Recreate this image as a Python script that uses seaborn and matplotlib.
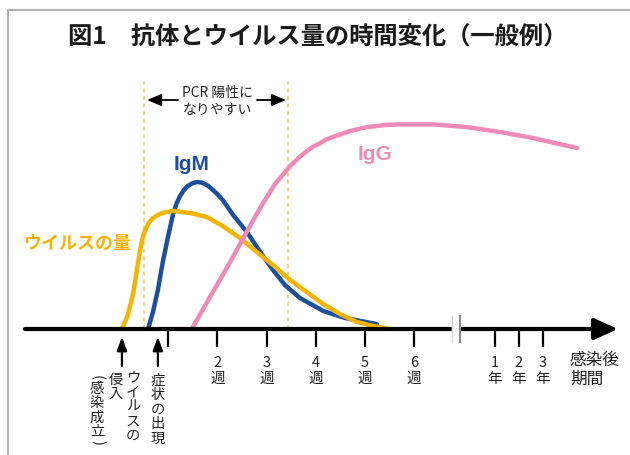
import pandas as pd
import matplotlib
matplotlib.use("Agg")
import matplotlib.pyplot as plt
from matplotlib.lines import Line2D
import seaborn as sns

# weeks after infection vs relative level (IgG plateau ~ 100)
virus_weeks = [0.06, 0.18, 0.29, 0.37, 0.43, 0.46, 0.49, 0.53, 0.57, 0.62, 0.67, 0.75, 0.83, 0.95,
               1.10, 1.44, 1.79, 2.11, 2.46, 2.80, 3.13, 3.48, 3.82, 4.15, 4.49, 4.84, 5.16, 5.51]
virus_level = [0, 6.8, 17.6, 29.8, 38.5, 42.3, 45.4, 48.0, 50.2, 52.2, 53.7, 55.0, 56.1, 57.0,
               57.6, 56.6, 54.6, 50.2, 44.4, 37.6, 31.2, 23.9, 18.0, 12.2, 7.3, 3.4, 1.5, 0]

igm_weeks = [0.59, 0.69, 0.79, 0.89, 1.00, 1.10, 1.17, 1.24, 1.32, 1.40, 1.50, 1.59, 1.67, 1.75,
             1.83, 1.91, 2.01, 2.11, 2.32, 2.60, 2.87, 3.13, 3.37, 3.68, 4.15, 4.59, 5.24]
igm_level = [0, 8.3, 19.0, 32.7, 45.4, 56.1, 61.2, 64.9, 67.8, 69.8, 71.2, 71.7, 71.5, 70.7,
             69.5, 67.8, 65.5, 62.9, 55.6, 47.3, 37.6, 28.8, 21.5, 15.1, 8.8, 5.4, 2.4]

igg_weeks = [1.48, 1.85, 2.26, 2.66, 2.93, 3.17, 3.48, 3.65, 3.82, 3.95, 4.09, 4.20, 4.35, 4.70,
             5.04, 5.41, 5.71, 6.38, 7.07, 7.74, 8.41, 8.86, 9.31]
igg_level = [0, 15.6, 32.7, 50.2, 61.5, 70.7, 79.5, 83.5, 86.8, 89.0, 90.7, 92.3, 93.7, 96.6,
             98.5, 99.5, 99.8, 99.8, 98.5, 96.1, 93.2, 90.7, 88.3]

tick_pos = [1, 2, 3, 4, 5, 6, 7.64, 8.13, 8.62]
tick_labels = ["", "2\n週", "3\n週", "4\n週", "5\n週", "6\n週", "1\n年", "2\n年", "3\n年"]
pcr_window = [0.51, 3.43]
event_weeks = [0.06, 0.79]

title = "図1　抗体とウイルス量の時間変化（一般例）"

c_virus = "#F4B400"
c_igm = "#1D4F9F"
c_igg = "#EE8BB4"

sns.set_theme(style="white")
plt.rcParams["font.family"] = ["Noto Sans CJK JP", "DejaVu Sans"]

W, H = 630, 455
fig = plt.figure(figsize=(W / 100, H / 100), dpi=100)
ax = fig.add_axes([0, 0, 1, 1])


def fp(x, y):
    return x / W, 1 - y / H


# curves
line_kw = dict(ax=ax, lw=3.2, zorder=3, solid_joinstyle="round")
sns.lineplot(data=pd.DataFrame({"week": igm_weeks, "level": igm_level}), x="week", y="level",
             color=c_igm, **line_kw)
sns.lineplot(data=pd.DataFrame({"week": virus_weeks, "level": virus_level}), x="week", y="level",
             color=c_virus, **line_kw)
sns.lineplot(data=pd.DataFrame({"week": igg_weeks, "level": igg_level}), x="week", y="level",
             color=c_igg, **line_kw)
# 49.2 px per week, week 0 at px 119; baseline at px 329, 2.05 px per unit
ax.set_xlim(-119 / 49.2, (W - 119) / 49.2)
ax.set_ylim((329 - H) / 2.05, 329 / 2.05)
ax.set_axis_off()

# PCR window
ax.vlines(pcr_window, 0, 120.5, colors="#F0C84A", linestyles=(0, (2.5, 2.5)), lw=1.1, zorder=1)
for a, b in [((178, 100), (147, 100)), ((257, 100), (286, 100))]:
    ax.annotate("", xy=fp(*b), xytext=fp(*a), xycoords="figure fraction", textcoords="figure fraction",
                arrowprops=dict(arrowstyle="-|>,head_length=0.43,head_width=0.18", mutation_scale=20,
                                lw=1.3, color="black", shrinkA=0, shrinkB=0))
fig.text(*fp(217, 93), "PCR 陽性に", fontsize=10, ha="center", va="center", color="#222222")
fig.text(*fp(217, 110), "なりやすい", fontsize=10, ha="center", va="center", color="#222222")

# time axis
ax.annotate("", xy=(10.14, 0), xytext=(-1.91, 0),
            arrowprops=dict(arrowstyle="-|>,head_length=0.42,head_width=0.19", mutation_scale=34,
                            lw=3, color="black", shrinkA=0, shrinkB=0), zorder=4)
ax.vlines(tick_pos, -8.8, 0, color="black", lw=1.6, zorder=4)
for p, lab in zip(tick_pos, tick_labels):
    ax.text(p, -20.5, lab, ha="center", va="center", fontsize=10.5, linespacing=1.1, color="#222222")
ax.fill_betweenx([-7, 7], 6.77, 6.90, color="white", zorder=5)
ax.vlines(6.93, -7, 7, color="#8c8c8c", lw=1.5, zorder=6)
ax.vlines(6.77, -7, 7, color="#d8d8d8", lw=1.0, zorder=6)
fig.text(*fp(570, 370), "感染後\n期間", fontsize=12, ha="left", va="center", linespacing=1.2,
         color="#222222")

# events below the axis
for w in event_weeks:
    ax.annotate("", xy=(w, -3.9), xytext=(w, -18.0),
                arrowprops=dict(arrowstyle="-|>,head_length=0.4,head_width=0.15", mutation_scale=20,
                                lw=1.6, color="black", shrinkA=0, shrinkB=0))


def vtext(x, y0, chars, step=14.6):
    # vertical writing: one character per row
    for i, ch in enumerate(chars):
        fig.text(*fp(x, y0 + i * step), ch, ha="center", va="center", fontsize=10.3, color="#222222")


vtext(158, 380.5, "症状の出現")
vtext(133, 377.5, "ウイルスの")
vtext(116, 379.5, "侵入")
vtext(97, 388.5, "感染成立")
fig.text(*fp(97, 377), "(", rotation=-90, ha="center", va="center", fontsize=10.3, color="#222222")
fig.text(*fp(97, 442), ")", rotation=-90, ha="center", va="center", fontsize=10.3, color="#222222")

# series labels
fig.text(*fp(23, 243), "ウイルスの量", color=c_virus, fontsize=13, fontweight="bold", ha="left", va="center")
fig.text(*fp(192, 165), "IgM", color=c_igm, fontsize=15, fontweight="bold", ha="center", va="center",
         family="Liberation Sans")
fig.text(*fp(375, 155), "IgG", color=c_igg, fontsize=15, fontweight="bold", ha="center", va="center",
         family="Liberation Sans")

# title and frame
fig.text(*fp(318, 38), title, fontsize=17.5, fontweight="bold", ha="center", va="center", color="#1a1a1a")
fig.add_artist(Line2D([8 / W, 8 / W], [0, 1 - 10 / H], transform=fig.transFigure, color="#b0b0b0", lw=1.5))
fig.add_artist(Line2D([8 / W, 1], [1 - 10 / H, 1 - 10 / H], transform=fig.transFigure, color="#b0b0b0", lw=1.5))

fig.savefig("out.png", dpi=100)
